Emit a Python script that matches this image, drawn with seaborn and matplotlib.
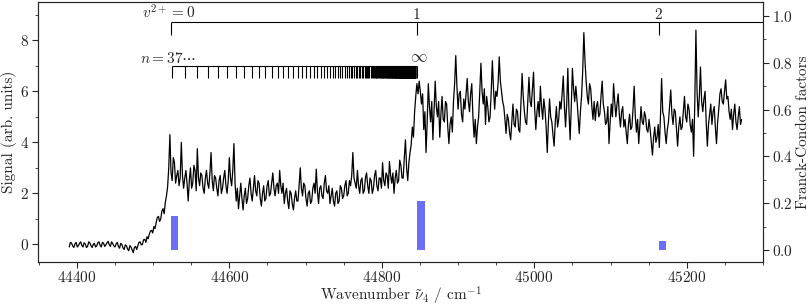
import numpy as np
import pandas as pd
import matplotlib
matplotlib.use("Agg")
import matplotlib.pyplot as plt
import seaborn as sns
from matplotlib.ticker import MultipleLocator

# ---------------- data ----------------
wn_start = 44390      # first sample (cm^-1)
wn_step = 1.5         # sampling step (cm^-1)
signal = [
    -0.10, 0.08, 0.05, -0.06, -0.12, 0.02, 0.08, -0.10, -0.05, 0.04, 0.10, -0.04, -0.10, 0.06, 0.02, -0.12, -0.08, 0.10, 0.06, -0.05,
    -0.12, 0.00, 0.04, -0.10, -0.06, 0.06, 0.10, -0.04, -0.10, 0.08, 0.05, -0.08, -0.02, 0.06, 0.12, -0.02, -0.08, 0.10, 0.03, -0.06,
    -0.10, 0.02, 0.08, -0.08, -0.15, 0.04, 0.00, -0.14, -0.20, -0.02, -0.05, -0.18, -0.25, -0.05, -0.10, -0.22, -0.32, -0.12, -0.08, -0.20,
    -0.05, 0.08, 0.10, -0.02, 0.00, 0.18, 0.20, 0.08, 0.30, 0.22, 0.40, 0.52, 0.55, 0.45, 0.70, 0.62, 0.85, 1.05, 1.10, 0.90,
    1.00, 1.30, 1.40, 1.20, 1.65, 1.90, 2.25, 3.00, 4.30, 2.80, 2.50, 3.40, 3.20, 2.40, 2.70, 2.90, 2.30, 2.60, 4.00, 2.70,
    2.20, 2.60, 2.90, 2.40, 1.70, 2.50, 3.00, 2.20, 2.40, 3.10, 2.90, 2.10, 3.75, 2.60, 2.30, 2.80, 2.70, 2.20, 2.00, 2.60,
    2.90, 2.40, 2.20, 2.80, 3.60, 2.50, 2.10, 2.70, 2.60, 2.20, 1.90, 2.50, 2.70, 2.00, 2.20, 2.60, 2.90, 2.30, 2.00, 2.50,
    3.40, 2.60, 2.30, 2.90, 3.95, 2.40, 1.70, 2.20, 1.40, 1.90, 2.40, 1.80, 1.35, 1.90, 2.20, 1.60, 1.80, 2.30, 2.60, 2.00,
    1.70, 2.20, 2.70, 2.10, 1.90, 2.50, 2.40, 1.80, 1.50, 2.00, 2.30, 1.70, 1.80, 2.30, 2.50, 1.90, 2.00, 2.40, 2.80, 2.20,
    1.90, 2.30, 2.40, 2.00, 2.90, 2.30, 2.00, 2.40, 1.60, 2.00, 2.20, 1.70, 1.40, 2.10, 2.00, 1.60, 1.35, 1.80, 2.10, 1.70,
    1.70, 2.30, 3.00, 2.20, 1.90, 2.40, 2.30, 1.80, 1.50, 2.00, 2.10, 1.60, 1.70, 2.20, 2.40, 2.00, 2.95, 2.10, 1.60, 2.20,
    2.30, 1.90, 1.80, 2.40, 2.70, 2.10, 2.00, 2.30, 1.60, 1.90, 2.20, 1.70, 1.50, 2.00, 2.10, 1.60, 1.70, 2.30, 2.20, 1.80,
    1.90, 2.30, 2.50, 1.90, 2.00, 2.50, 2.30, 2.70, 3.60, 2.60, 2.40, 2.20, 2.90, 2.30, 2.00, 2.50, 2.60, 2.00, 2.10, 2.60,
    2.80, 2.30, 2.00, 2.60, 2.50, 2.00, 2.20, 2.70, 2.90, 2.30, 2.10, 2.60, 2.60, 2.20, 3.20, 2.50, 2.30, 2.80, 2.70, 2.20,
    3.25, 2.70, 2.40, 2.80, 2.00, 2.60, 2.90, 2.40, 2.50, 3.30, 3.10, 2.60, 2.60, 3.40, 4.10, 3.00, 2.50, 3.20, 3.60, 3.90,
    4.60, 4.20, 5.20, 5.80, 6.30, 5.90, 6.40, 6.00, 5.50, 5.90, 4.50, 5.20, 3.60, 4.80, 6.30, 5.40, 4.80, 5.60, 4.10, 5.20,
    6.40, 5.40, 5.00, 5.60, 4.20, 5.10, 5.80, 4.90, 4.80, 5.60, 5.50, 4.60, 3.95, 4.70, 5.00, 4.40, 5.60, 6.30, 7.40, 6.20,
    5.30, 5.90, 6.00, 5.10, 4.80, 5.70, 5.30, 5.90, 6.50, 5.60, 5.20, 5.90, 6.30, 5.00, 4.20, 4.90, 3.95, 4.60, 5.00, 6.00,
    7.10, 6.00, 5.50, 6.10, 4.70, 5.80, 5.40, 4.80, 5.00, 6.00, 7.20, 6.10, 5.30, 6.00, 5.80, 6.30, 7.35, 6.40, 6.00, 5.60,
    5.40, 4.90, 4.35, 5.10, 4.90, 4.40, 4.10, 4.80, 5.50, 4.70, 4.60, 5.30, 5.20, 4.50, 4.40, 5.60, 6.70, 5.80, 5.20, 4.80,
    4.70, 5.60, 6.55, 5.60, 5.40, 6.10, 6.75, 5.30, 4.50, 5.20, 5.60, 5.00, 6.20, 5.40, 4.90, 5.70, 5.30, 4.60, 3.60, 4.80,
    5.70, 5.00, 4.80, 4.30, 3.85, 4.80, 5.40, 4.60, 4.90, 5.60, 5.30, 5.90, 6.60, 5.40, 4.60, 5.50, 6.90, 5.20, 4.10, 5.40,
    6.90, 6.10, 5.60, 6.20, 5.66, 5.00, 4.35, 5.20, 5.80, 6.80, 8.30, 7.20, 6.40, 5.80, 5.50, 6.30, 6.10, 5.40, 4.90, 5.60,
    4.85, 5.40, 5.60, 5.00, 5.10, 5.80, 6.40, 5.50, 5.20, 4.70, 4.80, 5.40, 3.95, 4.80, 5.50, 5.00, 6.30, 5.60, 5.00, 5.50,
    5.90, 5.10, 4.60, 5.20, 5.40, 4.60, 4.90, 4.40, 3.95, 4.70, 5.10, 4.50, 4.60, 5.30, 6.20, 5.00, 4.40, 4.90, 3.95, 4.70,
    5.40, 4.80, 4.70, 5.20, 5.00, 4.50, 4.40, 4.90, 4.50, 4.00, 3.50, 4.20, 4.60, 4.00, 4.20, 4.70, 3.80, 5.00, 6.50, 5.20,
    5.00, 4.40, 3.95, 4.50, 4.80, 5.40, 6.05, 5.10, 4.70, 5.30, 5.20, 4.50, 3.85, 4.60, 5.00, 4.50, 4.60, 5.20, 5.80, 5.00,
    4.80, 5.50, 5.30, 4.70, 4.40, 4.90, 3.45, 5.50, 8.40, 6.00, 5.00, 5.80, 6.95, 5.60, 5.20, 5.70, 6.00, 4.80, 3.85, 4.70,
    5.10, 5.50, 4.70, 5.20, 5.40, 4.60, 3.95, 4.80, 5.30, 5.90, 6.10, 5.60, 5.50, 6.00, 6.45, 5.70, 5.80, 5.20, 4.90, 5.30,
    4.50, 5.10, 5.50, 4.80, 4.50, 5.00, 5.40, 4.70, 4.90,
]
wavenumber = wn_start + wn_step * np.arange(len(signal))

fc_positions = [44528, 44851, 45168]
fc_factors = [0.145, 0.21, 0.04]

vib_positions = [44523, 44846, 45163]
vib_labels = ["$v^{2+}=0$", "1", "2"]

ryd_limit = 44846          # series limit (cm^-1)
ryd_const = 4 * 109737     # Z^2 R for a dication core
ryd_n = np.arange(37, 400)

# ---------------- style ----------------
sns.set_style("ticks")
plt.rcParams["font.family"] = ["cmr10", "DejaVu Serif"]
plt.rcParams["mathtext.fontset"] = "cm"
plt.rcParams["axes.formatter.use_mathtext"] = True
plt.rcParams["font.size"] = 11
plt.rcParams["axes.linewidth"] = 0.8

fig = plt.figure(figsize=(8.1, 3.07), dpi=100)
ax = fig.add_axes([38 / 810, 1 - 262 / 307, (763 - 38) / 810, 260 / 307])

df = pd.DataFrame({"wn": wavenumber, "sig": signal})
sns.lineplot(data=df, x="wn", y="sig", ax=ax, color="black", lw=0.9)

ax.set_xlim(44349, 45300)
ax.set_ylim(-0.69, 9.5)
ax.xaxis.set_major_locator(MultipleLocator(200))
ax.xaxis.set_minor_locator(MultipleLocator(50))
ax.yaxis.set_major_locator(MultipleLocator(2))
ax.yaxis.set_minor_locator(MultipleLocator(1))
ax.tick_params(which="major", direction="out", length=4, width=0.8, labelsize=11, pad=2.5)
ax.tick_params(axis="x", which="major", pad=2)
ax.tick_params(which="minor", direction="out", length=2, width=0.6)
ax.set_xlabel(r"Wavenumber $\tilde{\nu}_4$ / cm$^{-1}$", fontsize=11, labelpad=0)
ax.set_ylabel("Signal (arb. units)", fontsize=11, labelpad=2)

# vibrational ladder
ax.hlines(8.72, vib_positions[0], 45300, color="black", lw=0.8)
ax.vlines(vib_positions, 8.21, 8.72, color="black", lw=0.8)
ax.text(44485, 8.84, vib_labels[0], ha="left", va="baseline", fontsize=11)
for p, l in zip(vib_positions[1:], vib_labels[1:]):
    ax.text(p, 8.84, l, ha="center", va="baseline", fontsize=11)

# Rydberg comb
ryd_pos = ryd_limit - ryd_const / ryd_n ** 2
ax.hlines(7.0, ryd_pos[0], ryd_limit, color="black", lw=0.8)
ax.vlines(ryd_pos, 6.53, 7.0, color="black", lw=0.8)
ax.vlines([ryd_limit], 6.53, 7.0, color="black", lw=0.8)
ax.text(44483, 7.11, r"$n=37\cdots$", ha="left", va="baseline", fontsize=11)
ax.text(ryd_limit + 2, 7.02, r"$\infty$", ha="center", va="bottom", fontsize=12)

# Franck-Condon factors
ax2 = ax.twinx()
ax2.bar(fc_positions, fc_factors, width=10, color="#6a6ff5", edgecolor="none")
ax2.set_ylim(-0.051, 1.06)
ax2.yaxis.set_major_locator(MultipleLocator(0.2))
ax2.yaxis.set_minor_locator(MultipleLocator(0.1))
ax2.tick_params(which="major", direction="out", length=4, width=0.8, labelsize=11, pad=2.5)
ax2.tick_params(which="minor", direction="out", length=2, width=0.6)
ax2.set_ylabel("Franck-Condon factors", fontsize=11, labelpad=2)
for s in ax2.spines.values():
    s.set_linewidth(0.8)

fig.savefig("out.png", dpi=100)
